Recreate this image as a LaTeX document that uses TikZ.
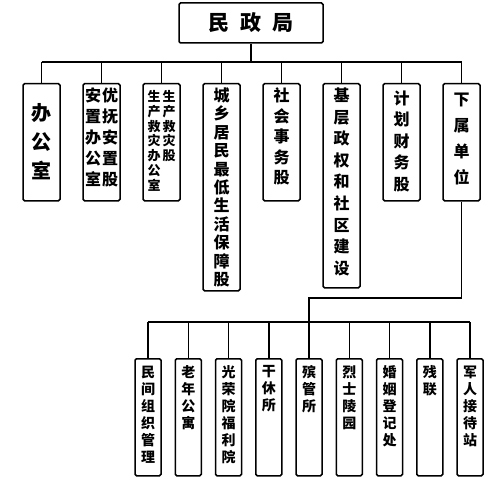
\documentclass[tikz,border=0pt]{standalone}
\usepackage{fontspec}
\newfontfamily\cjk{Noto Sans CJK SC}
\usetikzlibrary{positioning}
% column of characters, top aligned in a fixed-height box
\newcommand\vcol[2]{\parbox[t]{#1pt}{\centering #2}}
\newcommand\topbox[4]{\parbox[c][#1pt][t]{#2pt}{\centering\vspace*{#3pt}#4}}
\tikzset{
  dept/.style={draw, line width=1.5, rounded corners=1.5, inner sep=0, align=center,
    anchor=north, font=\cjk\bfseries\fontsize{16}{21}\selectfont},
  unit/.style={dept, font=\cjk\bfseries\fontsize{14}{17}\selectfont},
  link/.style={line width=1.5}
}
\begin{document}
\begin{tikzpicture}[x=1pt, y=-1pt]
\useasboundingbox (0,0) rectangle (500,500);
\node[draw, line width=1.5, rounded corners=1.5, minimum width=144, minimum height=40,
  font=\cjk\bfseries\fontsize{21}{24}\selectfont] (mzj) at (251,23) {民\hspace{11pt}政\hspace{11pt}局};
% departments
\node[dept, font=\cjk\bfseries\fontsize{20}{29}\selectfont] (bgs) at (41.5,83) {\topbox{117}{37}{20}{办\\公\\室}};
\node[dept] (yfaz) at (101.5,83) {\topbox{117}{37}{4}{\vcol{17}{安\\置\\办\\公\\室}\hspace{0pt}\vcol{17}{优\\抚\\安\\置\\股}}};
\node[dept, font=\cjk\bfseries\fontsize{13}{14.7}\selectfont] (sczj) at (161.5,83) {\topbox{117}{37}{7}{\vcol{15}{生\\产\\救\\灾\\办\\公\\室}\vcol{15}{生\\产\\救\\灾\\股}}};
\node[dept, font=\cjk\bfseries\fontsize{16}{18.4}\selectfont] (dibao) at (221.5,83) {\topbox{207}{37}{4}{城\\乡\\居\\民\\最\\低\\生\\活\\保\\障\\股}};
\node[dept, font=\cjk\bfseries\fontsize{16}{20.5}\selectfont] (shsw) at (281.5,83) {\topbox{117}{37}{4}{社\\会\\事\\务\\股}};
\node[dept, font=\cjk\bfseries\fontsize{16}{21.6}\selectfont] (jczq) at (341.5,83) {\topbox{204}{37}{4}{基\\层\\政\\权\\和\\社\\区\\建\\设}};
\node[dept, font=\cjk\bfseries\fontsize{16}{21.5}\selectfont] (jhcw) at (401.5,83) {\topbox{117}{37}{7}{计\\划\\财\\务\\股}};
\node[dept, font=\cjk\bfseries\fontsize{16}{26}\selectfont] (xsdw) at (461.5,83) {\topbox{117}{37}{9}{下\\属\\单\\位}};
% subordinate units
\node[unit] (u1) at (148,358) {\topbox{117}{26}{7}{民\\间\\组\\织\\管\\理}};
\node[unit] (u2) at (188.25,358) {\topbox{117}{26}{7}{老\\年\\公\\寓}};
\node[unit] (u3) at (228.5,358) {\topbox{117}{26}{7}{光\\荣\\院\\福\\利\\院}};
\node[unit] (u4) at (268.75,358) {\topbox{117}{26}{7}{干\\休\\所}};
\node[unit] (u5) at (309,358) {\topbox{117}{26}{7}{殡\\管\\所}};
\node[unit] (u6) at (349.25,358) {\topbox{117}{26}{7}{烈\\士\\陵\\园}};
\node[unit] (u7) at (389.5,358) {\topbox{117}{26}{7}{婚\\姻\\登\\记\\处}};
\node[unit] (u8) at (429.75,358) {\topbox{117}{26}{7}{残\\联}};
\node[unit] (u9) at (470,358) {\topbox{117}{26}{7}{军\\人\\接\\待\\站}};
% connectors
\coordinate (bus) at (0,62);
\coordinate (turn) at (0,298);
\coordinate (bus2) at (0,322);
\draw[link] (mzj.south) -- (mzj.south |- bus);
\draw[link] (bgs.north |- bus) -- (xsdw.north |- bus);
\foreach \d in {bgs,yfaz,sczj,dibao,shsw,jczq,jhcw,xsdw}
  \draw[link] (\d.north |- bus) -- (\d.north);
\draw[link] (xsdw.south) -- (xsdw.south |- turn) -- (u5.north |- turn) -- (u5.north |- bus2);
\draw[link] (u1.north |- bus2) -- (u9.north |- bus2);
\foreach \u in {u1,u2,u3,u4,u5,u6,u7,u8,u9}
  \draw[link] (\u.north |- bus2) -- (\u.north);
\end{tikzpicture}
\end{document}
